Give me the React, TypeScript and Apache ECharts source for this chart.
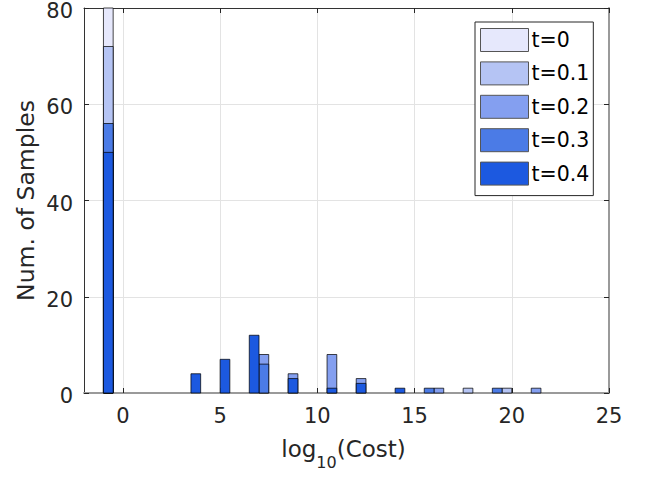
import React, { useEffect, useRef } from "react";
import * as echarts from "echarts";

// bin width of the histogram (log10 units)
const BIN_WIDTH = 0.5;
const SERIES_NAMES = ["t=0", "t=0.1", "t=0.2", "t=0.3", "t=0.4"];
const COLORS = ["#e6e8fc", "#b5c4f4", "#849ff0", "#4b7be6", "#1c59e0"];

// bin start positions and counts per series
const T0_BINS = [-1];
const T0_COUNTS = [80];
const T01_BINS = [-1, 17.5, 19.5];
const T01_COUNTS = [72, 1, 1];
const T02_BINS = [-1, 7, 8.5, 10.5, 12, 16, 21];
const T02_COUNTS = [55, 8, 4, 8, 3, 1, 1];
const T03_BINS = [-1, 7, 15.5, 19];
const T03_COUNTS = [56, 6, 1, 1];
const T04_BINS = [-1, 3.5, 5, 6.5, 8.5, 10.5, 12, 14];
const T04_COUNTS = [50, 4, 7, 12, 3, 1, 2, 1];

const X_TICKS = [0, 5, 10, 15, 20, 25];

const ALL_BINS = [T0_BINS, T01_BINS, T02_BINS, T03_BINS, T04_BINS];
const ALL_COUNTS = [T0_COUNTS, T01_COUNTS, T02_COUNTS, T03_COUNTS, T04_COUNTS];

const FONT = "'DejaVu Sans', 'Liberation Sans', Arial, sans-serif";
const TXT = "#262626";

export default function App() {
  const ref = useRef<HTMLDivElement>(null);
  useEffect(() => {
    if (!ref.current) return;
    const chart = echarts.init(ref.current, null, { renderer: "svg" });
    const series = SERIES_NAMES.map((name, i) => ({
      name,
      type: "custom",
      xAxisIndex: 0,
      yAxisIndex: 0,
      itemStyle: { color: COLORS[i], borderColor: "#4d4d4d", borderWidth: 1 },
      data: ALL_BINS[i].map((b, j) => [b, ALL_COUNTS[i][j]]),
      renderItem: (params: any, api: any) => {
        const x0 = api.value(0);
        const h = api.value(1);
        const p0 = api.coord([x0, 0]);
        const p1 = api.coord([x0 + BIN_WIDTH, h]);
        return {
          type: "rect",
          shape: { x: p0[0], y: p1[1], width: p1[0] - p0[0], height: p0[1] - p1[1] },
          style: { fill: COLORS[i], stroke: "rgba(0,0,0,0.72)", lineWidth: 1 },
        };
      },
    }));
    chart.setOption({
      animation: false,
      textStyle: { fontFamily: FONT, color: TXT },
      grid: { left: 84, top: 8, width: 525, height: 385, outerBoundsMode: "none", containLabel: false },
      legend: {
        orient: "vertical",
        left: 475,
        top: 22,
        icon: "rect",
        itemWidth: 48,
        itemHeight: 23,
        itemGap: 9.4,
        padding: [6, 4, 10, 5],
        borderColor: "#262626",
        borderWidth: 1,
        borderRadius: 0,
        backgroundColor: "#fff",
        itemStyle: { borderColor: "#555", borderWidth: 1 },
        textStyle: { fontSize: 20.5, lineHeight: 23, color: "#000", fontFamily: FONT, padding: [0, 0, 0, -2] },
        data: SERIES_NAMES,
      },
      xAxis: [
        {
          type: "value",
          min: -2,
          max: 25,
          position: "bottom",
          axisLine: { show: true, onZero: false, lineStyle: { color: "#9a9a9a", width: 2 } },
          axisTick: { show: true, inside: true, length: 5, customValues: X_TICKS, lineStyle: { color: "#262626" } },
          axisLabel: { customValues: X_TICKS, fontSize: 21, color: TXT, margin: 12, fontFamily: FONT },
          splitLine: { show: true, lineStyle: { color: "#e3e3e3" } },
          name: "{n|log}{s|10}{n|(Cost)}",
          nameLocation: "middle",
          nameGap: 44,
          nameMoveOverlap: false,
          nameTextStyle: {
            fontFamily: FONT,
            color: TXT,
            padding: [0, 6, 0, 0],
            rich: {
              n: { fontSize: 23, lineHeight: 23, verticalAlign: "top", color: TXT, fontFamily: FONT },
              s: { fontSize: 16, lineHeight: 16, padding: [17, 0, 0, 0], verticalAlign: "top", color: TXT, fontFamily: FONT },
            },
          },
        },
        {
          type: "value",
          min: -2,
          max: 25,
          position: "top",
          axisLine: { show: true, onZero: false, lineStyle: { color: "#333", width: 1 } },
          axisTick: { show: true, inside: true, length: 5, customValues: X_TICKS, lineStyle: { color: "#262626" } },
          axisLabel: { show: false },
          splitLine: { show: false },
        },
      ],
      yAxis: [
        {
          type: "value",
          min: 0,
          max: 80,
          interval: 20,
          position: "left",
          axisLine: { show: true, onZero: false, lineStyle: { color: "#333", width: 1 } },
          axisTick: { show: true, inside: true, length: 5, lineStyle: { color: "#262626" } },
          axisLabel: { fontSize: 21, lineHeight: 6, verticalAlign: "top", color: TXT, margin: 11, fontFamily: FONT },
          splitLine: { show: true, lineStyle: { color: "#e3e3e3" } },
          name: "Num. of Samples",
          nameLocation: "middle",
          nameGap: 46,
          nameMoveOverlap: false,
          nameTextStyle: { fontSize: 23.5, color: TXT, fontFamily: FONT },
        },
        {
          type: "value",
          min: 0,
          max: 80,
          interval: 20,
          position: "right",
          axisLine: { show: true, onZero: false, lineStyle: { color: "#9a9a9a", width: 2 } },
          axisTick: { show: true, inside: true, length: 5, lineStyle: { color: "#262626" } },
          axisLabel: { show: false },
          splitLine: { show: false },
        },
      ],
      series,
    });
    return () => chart.dispose();
  }, []);
  return (
    <div
      ref={ref}
      style={{ position: "fixed", left: 0, top: 0, width: 655, height: 480, background: "#fff" }}
    />
  );
}
